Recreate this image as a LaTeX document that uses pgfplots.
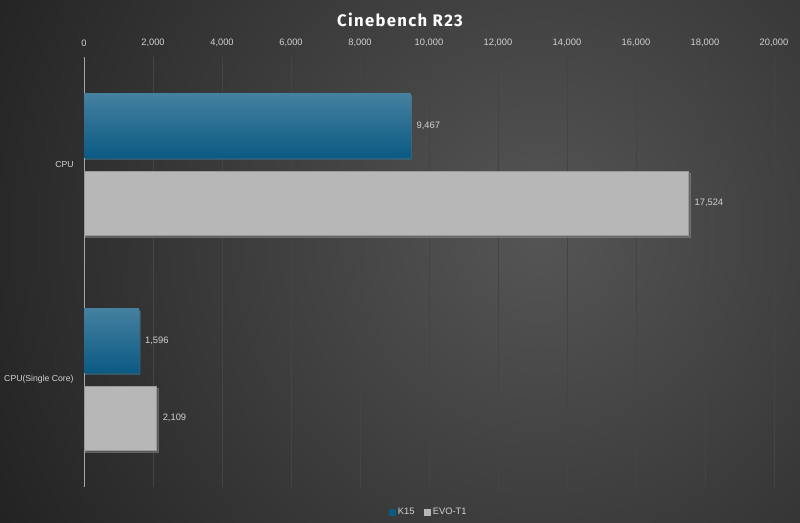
\documentclass[border=0pt]{standalone}
\usepackage{pgfplots}
\pgfplotsset{compat=1.18}
\usepackage{fontspec}
\setmainfont{Liberation Sans}
\newfontfamily\titlefont[LetterSpace=8]{Fira Sans}
\usetikzlibrary{shadows}
\definecolor{bgin}{HTML}{555555}
\definecolor{bgout}{HTML}{222222}
\definecolor{txt}{HTML}{D2D2D2}
\definecolor{gridc}{HTML}{444444}
\definecolor{blueT}{HTML}{45809F}
\definecolor{blueB}{HTML}{0A5A84}
\definecolor{barg}{HTML}{B7B7B7}
\pgfplotsset{
  bluebar/.style={draw=none, top color=blueT, bottom color=blueB,
    drop shadow={shadow xshift=1pt, shadow yshift=-1.5pt, opacity=0.5}},
  graybar/.style={draw=gray!80, line width=0.4pt, fill=barg,
    drop shadow={shadow xshift=1pt, shadow yshift=-1.5pt, opacity=0.5}},
}
\begin{document}
\begin{tikzpicture}
\useasboundingbox (0pt,0pt) rectangle (600pt,391.5pt);
\begin{scope}
\clip (0pt,0pt) rectangle (600pt,391.5pt);
\shade[inner color=bgin, outer color=bgout] (405pt,217pt) circle (465pt);
\end{scope}
\node[text=white,font=\titlefont\bfseries\fontsize{12.5}{14}\selectfont] at (300pt,376.5pt) {Cinebench R23};
\begin{axis}[
  at={(63pt,26.25pt)}, anchor=south west,
  scale only axis, width=517.5pt, height=322.5pt,
  xbar, y dir=reverse,
  xmin=0, xmax=20000, ymin=-0.5, ymax=1.5,
  axis x line*=top, axis y line*=left,
  x axis line style={draw=none},
  y axis line style={draw=gray!70, line width=0.7pt},
  xtick={0,2000,...,20000}, ytick={0,1},
  yticklabels={CPU,CPU(Single Core)},
  major tick style={draw=none},
  xmajorgrids,
  major grid style={draw=gridc, line width=0.6pt},
  scaled x ticks=false,
  /pgf/number format/1000 sep={,},
  /pgf/number format/assume math mode=true,
  tick label style={text=txt, font=\fontsize{7}{8}\selectfont},
  yticklabel style={font=\fontsize{6.5}{8}\selectfont},
  xticklabel shift=4pt,
  bar width=48pt,
  nodes near coords,
  nodes near coords style={text=txt, font=\fontsize{7}{8}\selectfont, anchor=west, xshift=1pt},
  every node near coord/.append style={/pgf/number format/1000 sep={,}, /pgf/number format/assume math mode=true},
  legend style={at={(0.5,-0.035)}, anchor=north, draw=none, fill=none, text=txt,
    font=\fontsize{7}{8}\selectfont, legend columns=2,
    /tikz/every even column/.append style={column sep=5pt}},
]
\addlegendimage{legend image code/.code={\fill[blueB] (1.5pt,-2.2pt) rectangle (5.9pt,2.2pt);}}
\addlegendimage{legend image code/.code={\fill[barg] (1.5pt,-2.2pt) rectangle (5.9pt,2.2pt);}}
\addplot[bluebar, bar shift=28.9pt, forget plot]
  coordinates {(9467,0)};
\addplot[graybar, bar shift=-28.9pt, forget plot]
  coordinates {(17524,0)};
\addplot[bluebar, bar shift=28.9pt, forget plot]
  coordinates {(1596,1)};
\addplot[graybar, bar shift=-28.9pt, forget plot]
  coordinates {(2109,1)};
\legend{K15,EVO-T1}
\end{axis}
\end{tikzpicture}
\end{document}
